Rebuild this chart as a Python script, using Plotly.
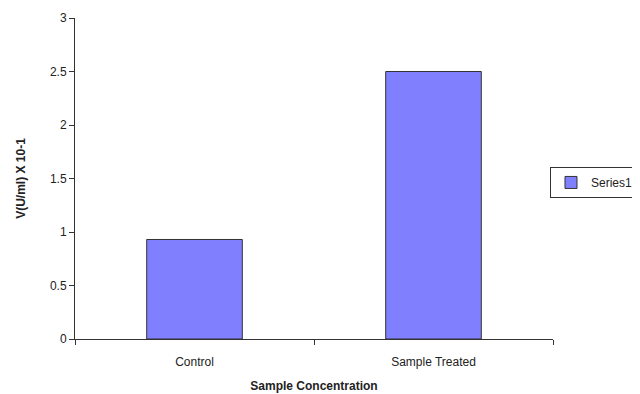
import plotly.graph_objects as go

categories = ["Control", "Sample Treated"]
values = [0.93, 2.5]
series_name = "Series1"
y_tick_vals = [0, 0.5, 1, 1.5, 2, 2.5, 3]
y_tick_text = ["0", "0.5", "1", "1.5", "2", "2.5", "3"]

fig = go.Figure()
fig.add_trace(go.Bar(
    x=categories, y=values, name=series_name,
    marker=dict(color="#8080FF", line=dict(color="#333333", width=1)),
    showlegend=True,
))

font_family = "Liberation Sans, Arial, sans-serif"
fig.update_layout(
    width=640, height=394,
    margin=dict(l=67, r=95, t=10, b=63, autoexpand=False),
    paper_bgcolor="white", plot_bgcolor="white",
    bargap=0.6,
    font=dict(family=font_family, size=12, color="#222222"),
    showlegend=True,
    legend=dict(
        x=0.9937, y=0.536, xanchor="left", yanchor="top",
        bordercolor="#333333", borderwidth=1,
        font=dict(size=12, color="#222222"),
        itemwidth=30,
    ),
    xaxis=dict(
        automargin=False,
        showline=True, linecolor="#333333", linewidth=1,
        ticks="outside", tickson="boundaries", ticklen=5, tickcolor="#333333",
        ticklabelstandoff=12,
        showgrid=False,
        title=dict(text="<b>Sample Concentration</b>", font=dict(size=12), standoff=13),
        tickfont=dict(size=12),
    ),
    yaxis=dict(
        automargin=False,
        range=[0, 3],
        tickvals=y_tick_vals, ticktext=y_tick_text,
        showline=True, linecolor="#333333", linewidth=1,
        ticks="outside", ticklen=5, tickcolor="#333333",
        showgrid=False, zeroline=False,
        title=dict(text="<b>V(U/ml) X 10-1</b>", font=dict(size=12), standoff=21),
        tickfont=dict(size=12),
    ),
)

fig.write_html("out.html")
